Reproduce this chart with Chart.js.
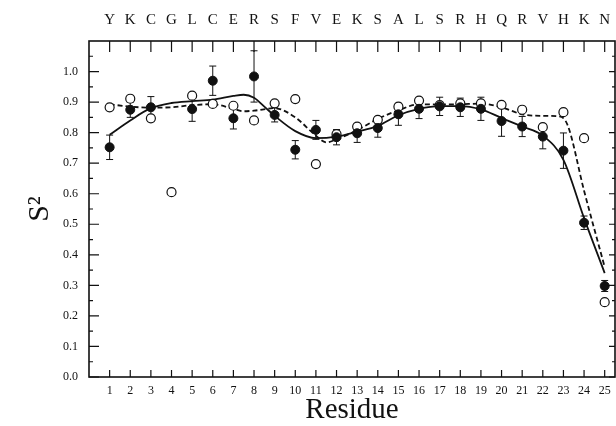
<!DOCTYPE html>
<html>
<head>
<meta charset="utf-8">
<script src="https://cdn.jsdelivr.net/npm/chart.js@4/dist/chart.umd.min.js"></script>
<style>
  body { margin: 0; background: #fff; }
  #wrap { width: 616px; height: 426px; }
</style>
</head>
<body>
<div id="wrap"><canvas id="myChart"></canvas></div>
<script>
var residues = [1, 2, 3, 4, 5, 6, 7, 8, 9, 10, 11, 12, 13, 14, 15, 16, 17, 18, 19, 20, 21, 22, 23, 24, 25];
var letters = ["Y", "K", "C", "G", "L", "C", "E", "R", "S", "F", "V", "E", "K", "S", "A", "L", "S", "R", "H", "Q", "R", "V", "H", "K", "N"];
var yTicks = [0, 0.1, 0.2, 0.3, 0.4, 0.5, 0.6, 0.7, 0.8, 0.9, 1.0];

// filled circles (with error bars)
var s2Filled = [0.752, 0.875, 0.883, null, 0.877, 0.970, 0.847, 0.984, 0.858, 0.744, 0.809, 0.785, 0.798,
    0.815, 0.860, 0.878, 0.886, 0.883, 0.878, 0.838, 0.820, 0.787, 0.741, 0.505, 0.298];
var s2Err = [0.04, 0.025, 0.035, null, 0.04, 0.048, 0.035, 0.084, 0.023, 0.03, 0.031, 0.025, 0.03,
    0.03, 0.036, 0.032, 0.03, 0.03, 0.038, 0.05, 0.033, 0.04, 0.058, 0.022, 0.018];
// open circles
var s2Open = [0.883, 0.911, 0.847, 0.605, 0.921, 0.894, 0.888, 0.840, 0.896, 0.910, 0.697, 0.795, 0.820,
    0.842, 0.885, 0.905, 0.890, 0.896, 0.896, 0.891, 0.875, 0.818, 0.867, 0.782, 0.245];

// smooth curves
var solidX = [1, 2, 3, 4, 5, 6, 7, 7.5, 8, 8.5, 9, 10, 11, 12, 13, 14, 15, 16, 17, 18, 19, 20, 21, 22, 23, 24, 25];
var solidY = [0.793, 0.840, 0.880, 0.897, 0.903, 0.908, 0.920, 0.924, 0.914, 0.885, 0.855, 0.805, 0.782, 0.787,
    0.803, 0.822, 0.857, 0.878, 0.887, 0.887, 0.876, 0.848, 0.820, 0.790, 0.711, 0.520, 0.340];
var dashX = [1, 2, 3, 4, 5, 6, 7, 7.5, 8, 9, 10, 11, 11.5, 12, 13, 14, 15, 16, 17, 18, 19, 20, 21, 22, 22.8, 23.2, 24, 25];
var dashY = [0.893, 0.885, 0.882, 0.883, 0.890, 0.893, 0.878, 0.870, 0.872, 0.880, 0.850, 0.790, 0.768, 0.778,
    0.808, 0.845, 0.873, 0.893, 0.892, 0.893, 0.895, 0.883, 0.860, 0.855, 0.853, 0.825, 0.610, 0.360];

function pts(xs, ys) {
    return xs.map(function (v, i) { return { x: v, y: ys[i] }; }).filter(function (p) { return p.y !== null; });
}

var serif = "'Liberation Serif', 'DejaVu Serif', serif";

function noSidePad(s) {
    s.paddingLeft = 0;
    s.paddingRight = 0;
}

var errorBars = {
    id: "errorBars",
    beforeDatasetsDraw: function (chart) {
        var ctx = chart.ctx, x = chart.scales.x, y = chart.scales.y;
        ctx.save();
        ctx.strokeStyle = "#111";
        ctx.lineWidth = 1;
        ctx.beginPath();
        residues.forEach(function (r, i) {
            if (s2Filled[i] === null) return;
            var px = x.getPixelForValue(r);
            var top = y.getPixelForValue(s2Filled[i] + s2Err[i]);
            var bot = y.getPixelForValue(s2Filled[i] - s2Err[i]);
            ctx.moveTo(px, top); ctx.lineTo(px, bot);
            ctx.moveTo(px - 3.5, top); ctx.lineTo(px + 3.5, top);
            ctx.moveTo(px - 3.5, bot); ctx.lineTo(px + 3.5, bot);
        });
        ctx.stroke();
        ctx.restore();
    }
};

var frame = {
    id: "frame",
    afterDraw: function (chart) {
        var ctx = chart.ctx, a = chart.chartArea, x = chart.scales.x, y = chart.scales.y;
        ctx.save();
        ctx.strokeStyle = "#111";
        ctx.lineWidth = 1.6;
        ctx.strokeRect(a.left, a.top, a.right - a.left, a.bottom - a.top);
        ctx.lineWidth = 1.2;
        ctx.beginPath();
        residues.forEach(function (r) {
            var px = x.getPixelForValue(r);
            ctx.moveTo(px, a.bottom); ctx.lineTo(px, a.bottom - 7);
            ctx.moveTo(px, a.top); ctx.lineTo(px, a.top + 11);
        });
        yTicks.forEach(function (v) {
            var py = y.getPixelForValue(v);
            ctx.moveTo(a.left, py); ctx.lineTo(a.left + 10, py);
            ctx.moveTo(a.right, py); ctx.lineTo(a.right - 6, py);
            var pm = y.getPixelForValue(v + 0.05);
            ctx.moveTo(a.left, pm); ctx.lineTo(a.left + 4, pm);
            ctx.moveTo(a.right, pm); ctx.lineTo(a.right - 3, pm);
        });
        ctx.stroke();
        ctx.restore();
    }
};

var ctx = document.getElementById("myChart").getContext("2d");
new Chart(ctx, {
    type: "scatter",
    data: {
        datasets: [
            {
                label: "filled",
                data: pts(residues, s2Filled),
                pointRadius: 4.5,
                pointBackgroundColor: "#111",
                pointBorderColor: "#111",
                pointBorderWidth: 1,
                showLine: false,
                order: 0
            },
            {
                label: "open",
                data: pts(residues, s2Open),
                pointRadius: 4.5,
                pointBackgroundColor: "#fff",
                pointBorderColor: "#111",
                pointBorderWidth: 1.2,
                showLine: false,
                order: 1
            },
            {
                label: "fit filled",
                data: pts(solidX, solidY),
                showLine: true,
                pointRadius: 0,
                borderColor: "#111",
                borderWidth: 1.8,
                cubicInterpolationMode: "monotone",
                order: 2
            },
            {
                label: "fit open",
                data: pts(dashX, dashY),
                showLine: true,
                pointRadius: 0,
                borderColor: "#111",
                borderWidth: 1.8,
                borderDash: [5, 3],
                cubicInterpolationMode: "monotone",
                order: 3
            }
        ]
    },
    options: {
        responsive: true,
        maintainAspectRatio: false,
        animation: false,
        layout: { autoPadding: false, padding: { left: 0, right: 1, top: 0, bottom: 0 } },
        plugins: { legend: { display: false }, tooltip: { enabled: false } },
        scales: {
            x: {
                type: "linear",
                position: "bottom",
                min: 0,
                max: 25.5,
                afterBuildTicks: function (s) { s.ticks = residues.map(function (v) { return { value: v }; }); },
                afterFit: function (s) { s.height = 49; noSidePad(s); },
                grid: { display: false, drawTicks: false },
                border: { display: false },
                ticks: { color: "#111", padding: 8, autoSkip: false, maxRotation: 0, font: { family: serif, size: 12, lineHeight: 1 } },
                title: { display: true, text: "Residue", color: "#111", font: { family: serif, size: 29, lineHeight: 1 }, padding: { top: 0, bottom: 1 } }
            },
            x2: {
                type: "linear",
                position: "top",
                min: 0,
                max: 25.5,
                afterBuildTicks: function (s) { s.ticks = residues.map(function (v) { return { value: v }; }); },
                afterFit: function (s) { s.height = 41; noSidePad(s); },
                grid: { display: false, drawTicks: false },
                border: { display: false },
                ticks: {
                    color: "#111", padding: 13, autoSkip: false, maxRotation: 0,
                    font: { family: serif, size: 15, lineHeight: 1 },
                    callback: function (v) { return letters[residues.indexOf(v)] || ""; }
                }
            },
            y: {
                type: "linear",
                min: 0,
                max: 1.1,
                afterBuildTicks: function (s) { s.ticks = yTicks.map(function (v) { return { value: v }; }); },
                afterFit: function (s) { s.width = 89; },
                grid: { display: false, drawTicks: false },
                border: { display: false },
                ticks: {
                    color: "#111", padding: 11,
                    font: { family: serif, size: 12, lineHeight: 1 },
                    callback: function (v) { return v.toFixed(1); }
                },
                title: { display: true, text: "S\u00b2", color: "#111", font: { family: serif, size: 30, lineHeight: 1 }, padding: { top: 25, bottom: 0 } }
            }
        }
    },
    plugins: [errorBars, frame]
});
</script>
</body>
</html>
